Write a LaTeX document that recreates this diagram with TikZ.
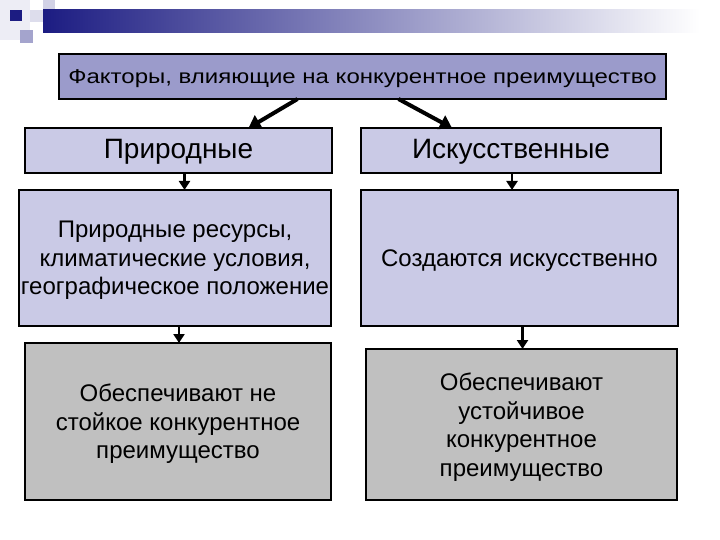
\documentclass[tikz,border=0pt]{standalone}
\usepackage{fontspec}
\setmainfont{Liberation Sans}
\newfontfamily\widesans[FakeStretch=1.2]{Liberation Sans}
\usetikzlibrary{arrows.meta, positioning}

\definecolor{titlefill}{HTML}{9B9BCB}
\definecolor{boxfill}{HTML}{CACAE6}
\definecolor{greyfill}{HTML}{C0C0C0}
\definecolor{navy}{HTML}{1C1C82}

\begin{document}
\begin{tikzpicture}[x=1pt, y=-1pt,
  box/.style={draw=black, line width=1.2pt, anchor=north west, inner sep=0pt,
    outer sep=0pt, align=center, text depth=-3pt, font=\fontsize{24}{28.5}\selectfont},
  arr/.style={-{Triangle[length=9pt,width=11pt]}, line width=2.2pt},
  bigarr/.style={-{Triangle[length=12pt,width=15pt]}, line width=4pt}]
\useasboundingbox (0,0) rectangle (720,540);
% corner squares and bar
\fill[navy!8] (0,0) rectangle (30,40);
\fill[navy!20] (43,0) rectangle (55,22);
\fill[navy!15] (30,10) rectangle (43,22);
\fill[navy!40] (20,30) rectangle (33,43);
\fill[navy] (10,10) rectangle (22,21);
\shade[left color=navy, middle color=navy!35!gray!60, right color=white] (43,10) rectangle (700,33);

\node[box, fill=titlefill, minimum width=607pt, minimum height=45pt, text depth=-1pt,
  font=\widesans\fontsize{20}{24}\selectfont] (title) at (59,54)
  {Факторы, влияющие на конкурентное преимущество};

\node[box, fill=boxfill, minimum width=307pt, minimum height=45pt, text depth=4pt,
  font=\fontsize{28}{32}\selectfont] (nat) at (25,128) {Природные};
\node[box, fill=boxfill, minimum width=300pt, minimum height=45pt, text depth=4pt,
  font=\fontsize{28}{32}\selectfont] (art) at (361,128) {Искусственные};

\node[box, fill=boxfill, minimum width=312pt, minimum height=136pt] (res) at (19,190)
  {Природные ресурсы,\\климатические условия,\\географическое положение};
\node[box, fill=boxfill, minimum width=317pt, minimum height=136pt, text depth=-2pt] (made) at (361,190)
  {Создаются искусственно};

\node[box, fill=greyfill, minimum width=306pt, minimum height=157pt, text depth=-8pt] (weak) at (25,343)
  {Обеспечивают не\\стойкое конкурентное\\преимущество};
\node[box, fill=greyfill, minimum width=311pt, minimum height=151pt] (strong) at (366,349)
  {Обеспечивают\\устойчивое\\конкурентное\\преимущество};

% arrows
\draw[bigarr] ([xshift=-65pt]title.south) -- ([xshift=70pt]nat.north);
\draw[bigarr] ([xshift=36pt]title.south) -- ([xshift=-59pt]art.north);
\draw[arr] ([xshift=6pt]nat.south) -- ([xshift=6pt]nat.south |- res.north);
\draw[arr] ([xshift=1pt]art.south) -- ([xshift=1pt]art.south |- made.north);
\draw[arr] ([xshift=4pt]res.south) -- ([xshift=4pt]res.south |- weak.north);
\draw[arr] ([xshift=3pt]made.south) -- ([xshift=3pt]made.south |- strong.north);
\end{tikzpicture}
\end{document}
